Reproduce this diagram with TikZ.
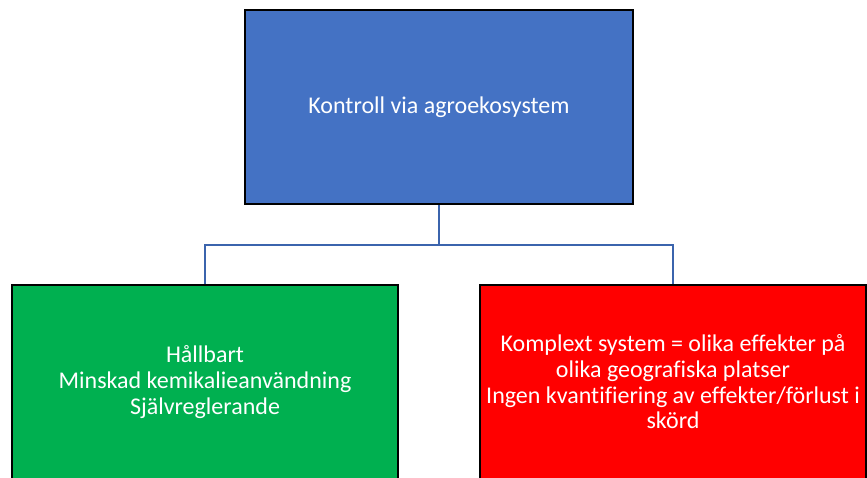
\documentclass[tikz,border=0pt]{standalone}
\usepackage{fontspec}
\setmainfont{Carlito}[Ligatures=NoCommon]
\definecolor{topblue}{HTML}{4472C4}
\definecolor{lineblue}{HTML}{3B64AD}
\definecolor{boxgreen}{HTML}{00B050}
\definecolor{boxred}{HTML}{FF0000}
\tikzset{
  box/.style={draw=black, line width=2pt, minimum width=386pt, minimum height=194pt,
    text=white, align=center, inner sep=0pt,
    font=\fontsize{24}{25.7}\selectfont},
  link/.style={draw=lineblue, line width=2pt}
}
\begin{document}
\begin{tikzpicture}[x=1pt,y=-1pt]
\useasboundingbox (0,0) rectangle (867,477);
\clip (0,0) rectangle (867,477);
\node[box, fill=topblue, minimum width=388pt] (top) at (439,107) {Kontroll via agroekosystem};
\node[box, fill=boxgreen] (left) at (205,382) {Hållbart\\Minskad kemikalieanvändning\\Självreglerande};
\node[box, fill=boxred] (right) at (673,382) {Komplext system = olika effekter på\\olika geografiska platser\\Ingen kvantifiering av effekter/förlust i\\skörd};
\coordinate (mid) at ([yshift=-40pt]top.south);
\draw[link] (top.south) -- (mid);
\draw[link] (mid) -| (left.north);
\draw[link] (mid) -| (right.north);
\end{tikzpicture}
\end{document}
